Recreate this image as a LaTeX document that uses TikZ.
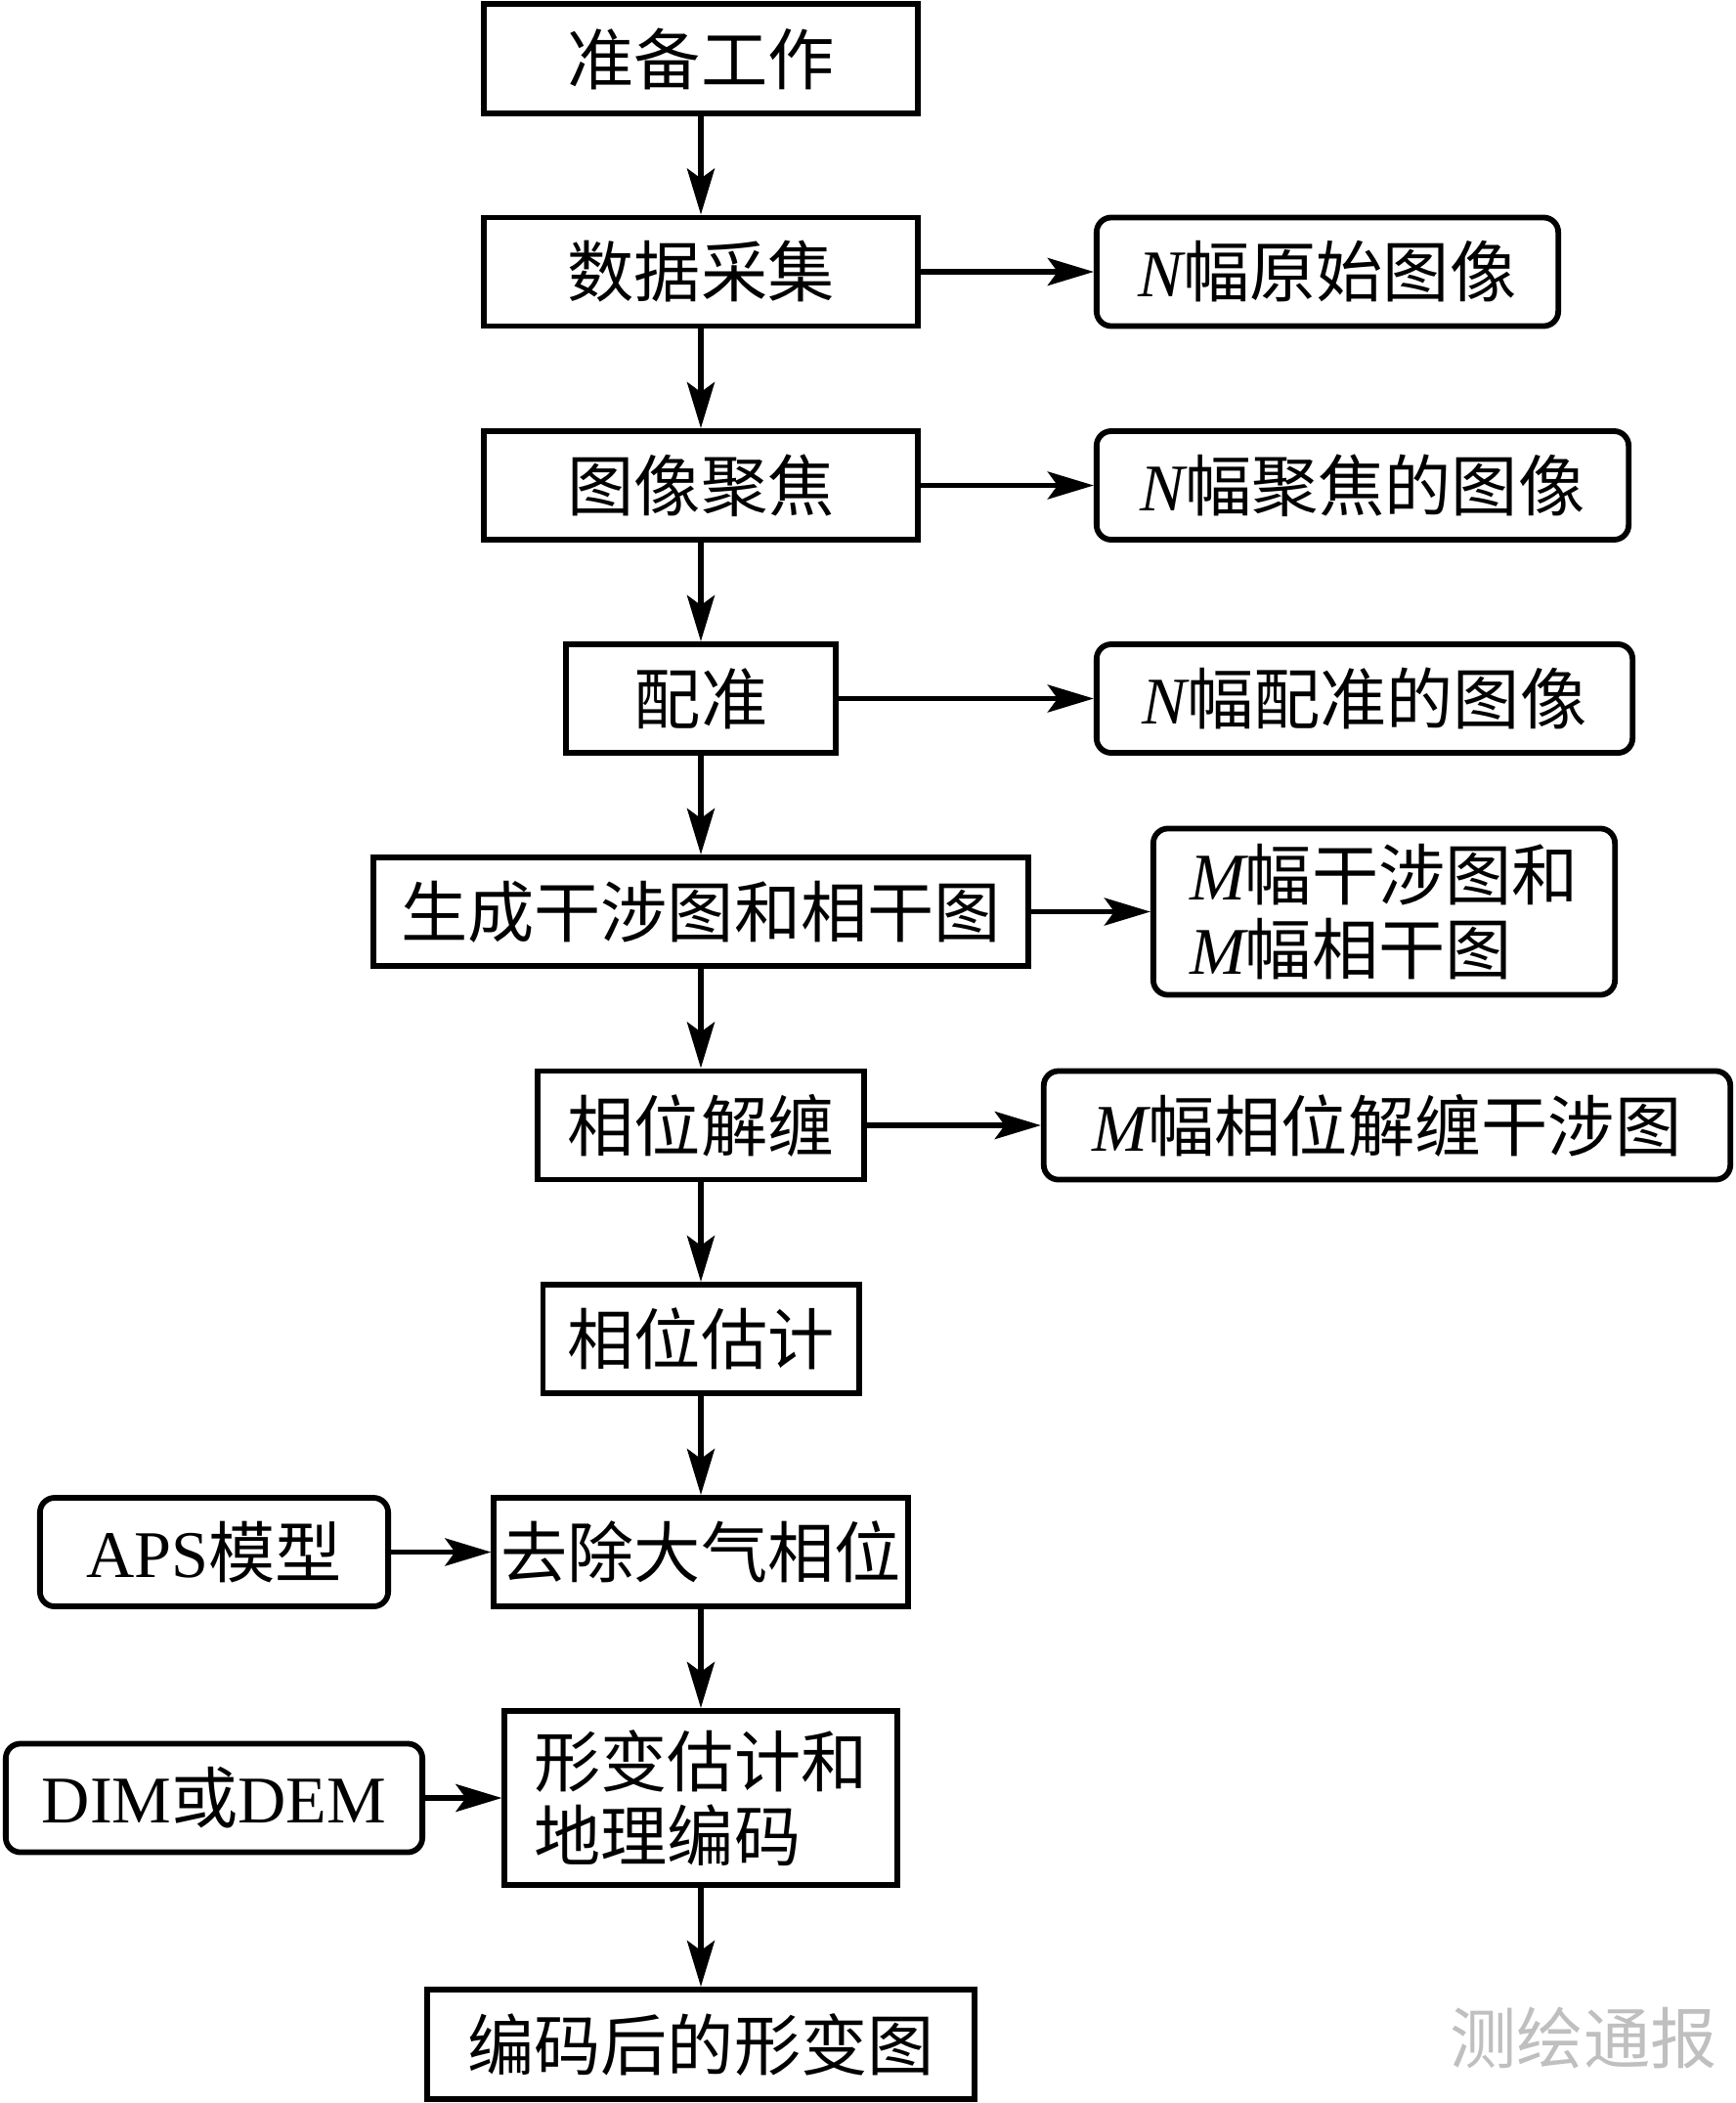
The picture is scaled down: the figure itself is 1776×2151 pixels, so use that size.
\documentclass[tikz,border=0pt]{standalone}
\usepackage{fontspec}
\setmainfont{Liberation Serif}
\newfontfamily\cjk{Noto Sans CJK SC}
\usetikzlibrary{arrows.meta}
\newcommand{\hz}[1]{{\cjk #1}}
\newcommand{\vi}[1]{{\itshape #1}}
\begin{document}
\begin{tikzpicture}[x=0.01cm,y=-0.01cm,
  every node/.style={font=\fontsize{19.4pt}{21.6pt}\selectfont, inner sep=0pt, line width=0.058cm},
  sqbox/.style={draw, rectangle},
  rbox/.style={draw, rectangle, rounded corners=0.15cm},
  arr/.style={-{Stealth[length=0.47cm,width=0.28cm,inset=0.1cm]}, line width=0.058cm}]
\useasboundingbox (0,0) rectangle (1776,2151);
% main column
\node[sqbox, minimum width=4.43cm, minimum height=1.12cm] (prep) at (717,60) {\hz{准备工作}};
\node[sqbox, minimum width=4.43cm, minimum height=1.11cm] (collect) at (717,278) {\hz{数据采集}};
\node[sqbox, minimum width=4.43cm, minimum height=1.11cm] (focus) at (717,496.5) {\hz{图像聚焦}};
\node[sqbox, minimum width=2.76cm, minimum height=1.11cm] (reg) at (717,714.5) {\hz{配准}};
\node[sqbox, minimum width=6.70cm, minimum height=1.11cm] (gen) at (717,932.5) {\hz{生成干涉图和相干图}};
\node[sqbox, minimum width=3.34cm, minimum height=1.11cm] (unwrap) at (717,1151) {\hz{相位解缠}};
\node[sqbox, minimum width=3.23cm, minimum height=1.11cm] (est) at (717,1369.5) {\hz{相位估计}};
\node[sqbox, minimum width=4.23cm, minimum height=1.11cm] (remove) at (717,1587.5) {\hz{去除大气相位}};
\node[sqbox, minimum width=4.01cm, minimum height=1.78cm, align=left] (deform) at (717,1839) {\hz{形变估计和}\\\hz{地理编码}};
\node[sqbox, minimum width=5.60cm, minimum height=1.12cm] (final) at (717,2091) {\hz{编码后的形变图}};
% right column
\node[rbox, minimum width=4.72cm, minimum height=1.11cm] (r1) at (1358,278) {\vi{N}\hz{幅原始图像}};
\node[rbox, minimum width=5.44cm, minimum height=1.11cm] (r2) at (1394,496.5) {\vi{N}\hz{幅聚焦的图像}};
\node[rbox, minimum width=5.48cm, minimum height=1.11cm] (r3) at (1396,714.5) {\vi{N}\hz{幅配准的图像}};
\node[rbox, minimum width=4.72cm, minimum height=1.70cm, align=left] (r4) at (1416,932.5) {\vi{M}\hz{幅干涉图和}\\\vi{M}\hz{幅相干图}};
\node[rbox, minimum width=7.02cm, minimum height=1.11cm] (r5) at (1419,1151) {\vi{M}\hz{幅相位解缠干涉图}};
% left column
\node[rbox, minimum width=3.56cm, minimum height=1.11cm] (aps) at (219,1587.5) {APS\hz{模型}};
\node[rbox, minimum width=4.26cm, minimum height=1.11cm] (dim) at (219,1839) {DIM\hz{或}DEM};
% watermark
\node[text=black!25] (wm) at (1620,2085) {\hz{测绘通报}};
% connectors
\draw[arr] (prep.south) -- (collect.north);
\draw[arr] (collect.south) -- (focus.north);
\draw[arr] (focus.south) -- (reg.north);
\draw[arr] (reg.south) -- (gen.north);
\draw[arr] (gen.south) -- (unwrap.north);
\draw[arr] (unwrap.south) -- (est.north);
\draw[arr] (est.south) -- (remove.north);
\draw[arr] (remove.south) -- (deform.north);
\draw[arr] (deform.south) -- (final.north);
\draw[arr] (collect.east) -- (r1.west);
\draw[arr] (focus.east) -- (r2.west);
\draw[arr] (reg.east) -- (r3.west);
\draw[arr] (gen.east) -- (r4.west);
\draw[arr] (unwrap.east) -- (r5.west);
\draw[arr] (aps.east) -- (remove.west);
\draw[arr] (dim.east) -- (deform.west);
\end{tikzpicture}
\end{document}
